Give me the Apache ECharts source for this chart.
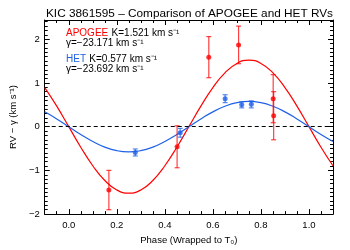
<!DOCTYPE html>
<html><head><meta charset="utf-8">
<script src="https://cdn.jsdelivr.net/npm/echarts@6/dist/echarts.min.js"></script>
<style>html,body{margin:0;padding:0;background:#fff}#c{width:350px;height:250px}</style>
</head><body><div id="c"></div>
<script>
// APOGEE RVs (phase, RV - gamma, error)
var apogeePhase = [0.167, 0.451, 0.583, 0.707, 0.851, 0.853];
var apogeeRV    = [-1.45, -0.46, 1.59, 1.87, 0.64, 0.25];
var apogeeErr   = [0.45, 0.48, 0.47, 0.43, 0.55, 0.55];
// HET RVs
var hetPhase = [0.277, 0.464, 0.651, 0.720, 0.760];
var hetRV    = [-0.59, -0.14, 0.64, 0.50, 0.51];
var hetErr   = [0.08, 0.10, 0.09, 0.07, 0.08];
// model curves read at phase steps of 0.05
var curvePhase = [-0.10,-0.05,0.00,0.05,0.10,0.15,0.20,0.25,0.30,0.35,0.40,0.45,0.50,0.55,0.60,0.65,0.70,0.75,0.80,0.85,0.90,0.95,1.00,1.05,1.10];
var apogeeCurve = [0.894,0.470,0,-0.470,-0.894,-1.231,-1.447,-1.521,-1.447,-1.231,-0.894,-0.470,0,0.470,0.894,1.231,1.447,1.521,1.447,1.231,0.894,0.470,0,-0.470,-0.894];
var hetCurve = [0.339,0.178,0,-0.178,-0.339,-0.467,-0.549,-0.577,-0.549,-0.467,-0.339,-0.178,0,0.178,0.339,0.467,0.549,0.577,0.549,0.467,0.339,0.178,0,-0.178,-0.339];
var yTicks = [-2, -1, 0, 1, 2];

var RED = '#ff0000', BLUE = '#1f62e8';
var FONT = 'Liberation Sans, Arial, sans-serif';

function pairs(xs, ys){ return xs.map(function(x,i){return [x, ys[i]];}); }
function errData(xs, ys, es){ return xs.map(function(x,i){return [x, ys[i]-es[i], ys[i]+es[i]];}); }
function errRender(color){
  return function(params, api){
    var x = api.value(0);
    var lo = api.coord([x, api.value(1)]);
    var hi = api.coord([x, api.value(2)]);
    var w = 2.5;
    var st = {stroke: color, lineWidth: 1.2, opacity: 0.75};
    return {type:'group', children:[
      {type:'line', shape:{x1:lo[0],y1:lo[1],x2:hi[0],y2:hi[1]}, style:st},
      {type:'line', shape:{x1:lo[0]-w,y1:lo[1],x2:lo[0]+w,y2:lo[1]}, style:st},
      {type:'line', shape:{x1:hi[0]-w,y1:hi[1],x2:hi[0]+w,y2:hi[1]}, style:st}
    ]};
  };
}

var axLine = {show:true, onZero:false, lineStyle:{color:'#000', width:1}};
function xAx(pos, labels){
  return {type:'value', position:pos, min:-0.1, max:1.1, splitNumber:5,
    axisLine:axLine, splitLine:{show:false},
    axisTick:{show:true, inside:true, length:5, lineStyle:{color:'#000'}},
    minorTick:{show:true, splitNumber:4, length:3, lineStyle:{color:'#000'}},
    axisLabel:{show:labels, showMinLabel:false, showMaxLabel:false, color:'#000', fontFamily:FONT, fontSize:9.5, margin:6,
      formatter:function(v){return v.toFixed(1);}},
    name: labels ? 'Phase (Wrapped to T\u2080)' : '', nameLocation:'middle', nameGap:19,
    nameTextStyle:{color:'#000', fontFamily:FONT, fontSize:9.5}
  };
}
function yAx(pos, labels){
  return {type:'value', position:pos, min:yTicks[0], max:2.44, interval:1,
    axisLine:axLine, splitLine:{show:false},
    axisTick:{show:true, inside:true, length:5, lineStyle:{color:'#000'}},
    minorTick:{show:true, splitNumber:10, length:3, lineStyle:{color:'#000'}},
    axisLabel:{show:labels, showMaxLabel:false, color:'#000', fontFamily:FONT, fontSize:9.5, margin:5,
      formatter:function(v){return yTicks.indexOf(v)>=0 ? String(v).replace('-', '\u2212') : '';}},
    name: labels ? 'RV \u2212 \u03b3 (km s\u207b\u00b9)' : '', nameLocation:'middle', nameGap:20,
    nameTextStyle:{color:'#000', fontFamily:FONT, fontSize:9.5, padding:[0,0,0,0]}
  };
}
var rich = {r:{fill:RED, fontFamily:FONT, fontSize:10, lineHeight:8.6},
            b:{fill:BLUE, fontFamily:FONT, fontSize:10, lineHeight:8.6},
            k:{fill:'#000', fontFamily:FONT, fontSize:10, lineHeight:8.6}};

var chart = echarts.init(document.getElementById('c'), null, {renderer:'canvas'});
chart.setOption({
  animation:false,
  backgroundColor:'#fff',
  title:{text:'KIC 3861595 \u2013 Comparison of APOGEE and HET RVs', left:41, top:3,
    textStyle:{color:'#000', fontFamily:FONT, fontSize:11.8, fontWeight:'normal'}},
  grid:{left:42, right:17, top:20, bottom:35.5},
  xAxis:[xAx('bottom', true), xAx('top', false)],
  yAxis:[yAx('left', true), yAx('right', false)],
  graphic:[
    {type:'text', left:66, top:27, style:{
      text:'{r|APOGEE} {k|K=1.521 km s\u207b\u00b9}\n{k|\u03b3=\u221223.171 km s\u207b\u00b9}', rich:rich}},
    {type:'text', left:66, top:53, style:{
      text:'{b|HET} {k|K=0.577 km s\u207b\u00b9}\n{k|\u03b3=\u221223.692 km s\u207b\u00b9}', rich:rich}}
  ],
  series:[
    {type:'line', data:pairs(curvePhase, apogeeCurve), smooth:true, showSymbol:false, symbol:'none',
      lineStyle:{color:RED, width:1.2}, z:3,
      markLine:{silent:true, symbol:'none', label:{show:false},
        lineStyle:{color:'#000', type:[4,3], width:1}, data:[{yAxis:0}]}},
    {type:'line', data:pairs(curvePhase, hetCurve), smooth:true, showSymbol:false, symbol:'none',
      lineStyle:{color:BLUE, width:1.2}, z:3},
    {type:'custom', renderItem:errRender(RED), data:errData(apogeePhase, apogeeRV, apogeeErr), z:4},
    {type:'custom', renderItem:errRender(BLUE), data:errData(hetPhase, hetRV, hetErr), z:4},
    {type:'scatter', data:pairs(apogeePhase, apogeeRV), symbol:'circle', symbolSize:5,
      itemStyle:{color:RED}, z:5},
    {type:'scatter', data:pairs(hetPhase, hetRV), symbol:'circle', symbolSize:5,
      itemStyle:{color:BLUE}, z:5}
  ]
});
</script></body></html>
